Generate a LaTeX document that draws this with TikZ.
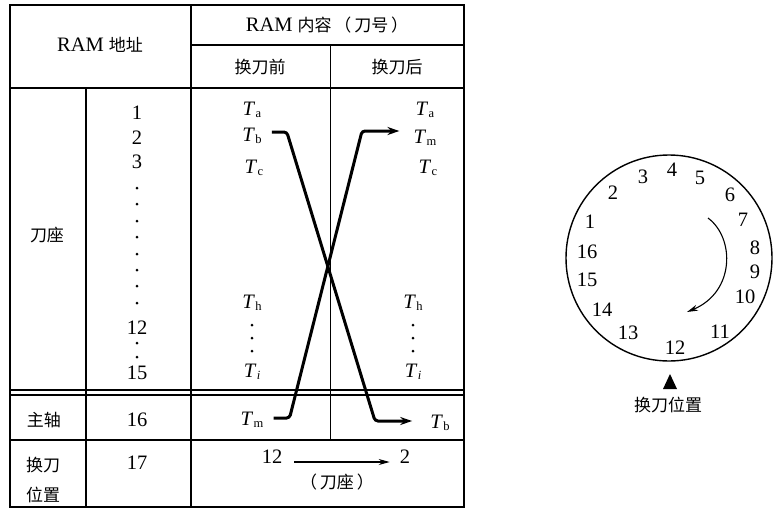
\documentclass[tikz,border=0pt]{standalone}
\usepackage{fontspec}
\setmainfont{Liberation Serif}
\newfontfamily\zhfam{Noto Sans CJK SC}
\usetikzlibrary{arrows.meta}

\newcommand\zh[1]{{\zhfam\fontsize{17}{20}\selectfont #1}}
\newcommand\tool[1]{\textit{T}\kern0.4pt\raisebox{-1.8pt}{\fontsize{12.5}{13}\selectfont #1}}

\tikzset{
  txt/.style={inner sep=0pt, font=\fontsize{20.5}{23}\selectfont},
  grid/.style={line width=1.6pt},
  thinline/.style={line width=1pt},
  swap/.style={line width=3pt, rounded corners=3pt, -{Stealth[length=12pt,width=8pt]}},
  move/.style={line width=1.1pt, -{Stealth[length=11pt,width=6pt]}},
}

\begin{document}
\begin{tikzpicture}[x=1pt,y=-1pt]
  \useasboundingbox (0,0) rectangle (774,512);
  % Tabela
  \draw[grid] (10,5) rectangle (464,507);
  \draw[grid] (191,45) -- (464,45);
  \draw[grid] (10,88) -- (464,88);
  \draw[grid] (10,390) -- (464,390) (10,395) -- (464,395);
  \draw[grid] (10,440) -- (464,440);
  \draw[grid] (191,5) -- (191,507);
  \draw[grid] (86,88) -- (86,507);
  \draw[thinline] (330,45) -- (330,440);
  % Cabecalho
  \node[txt] (addr) at (100,45) {RAM \zh{地址}};
  \node[txt] (cont) at (327,25) {RAM \zh{内容\,（\,刀号\,）}};
  \node[txt] (before) at (260,67) {\zh{换刀前}};
  \node[txt] (after) at (397,67) {\zh{换刀后}};
  % Linhas
  \node[txt] (seat) at (47,235) {\zh{刀座}};
  \node[txt] (spindle) at (44,420) {\zh{主轴}};
  \node[inner sep=0pt,align=center,font=\zhfam\fontsize{17}{30}\selectfont] (chg) at (43,480) {换刀\\位置};
  % Enderecos
  \node[txt] (a1) at (137,113) {1};
  \node[txt] (a2) at (137,138) {2};
  \node[txt] (a3) at (137,162) {3};
  \node[txt] (a12) at (137,328) {12};
  \node[txt] (a15) at (137,373) {15};
  \node[txt] (a16) at (137,420) {16};
  \node[txt] (a17) at (137,463) {17};
  \foreach \y in {188,204,221,237,254,270,286,303,343,357}
    \fill (137,\y) circle (1.5pt);
  % Antes da troca
  \node[txt] (taold) at (252,110) {\tool{a}};
  \node[txt] (tbold) at (252,136) {\tool{b}};
  \node[txt] (tcold) at (254,168) {\tool{c}};
  \node[txt] (thold) at (252,303) {\tool{h}};
  \node[txt] (tiold) at (252,372) {\tool{\textit{i}}};
  \node[txt] (tmold) at (252,420) {\tool{m}};
  % Depois da troca
  \node[txt] (tanew) at (425,110) {\tool{a}};
  \node[txt] (tmnew) at (425,138) {\tool{m}};
  \node[txt] (tcnew) at (428,168) {\tool{c}};
  \node[txt] (thnew) at (413,303) {\tool{h}};
  \node[txt] (tinew) at (413,372) {\tool{\textit{i}}};
  \node[txt] (tbnew) at (440,423) {\tool{b}};
  \foreach \y in {325,338,351} {
    \fill (252,\y) circle (1.5pt);
    \fill (413,\y) circle (1.5pt);
  }
  % Troca
  \draw[swap] ([shift={(10,-4)}]tbold.east) -- ++(15,0) -- (375,421) -- ([shift={(-18,-2)}]tbnew.west);
  \draw[swap] ([shift={(10,-2)}]tmold.east) -- ++(16,0) -- (362,131) -- ([shift={(-14,-7)}]tmnew.west);
  % Posicao de troca
  \node[txt] (from) at (272,457) {12};
  \node[txt] (to) at (405,457) {2};
  \draw[move] ([shift={(12,5)}]from.east) -- ([shift={(-10,5)}]to.west);
  \node[txt] (via) at (337,482) {\zh{（\,刀座\,）}};
  % Disco
  \draw[line width=1.4pt] (669,258) circle (103pt);
  \foreach \n/\px/\py in {4/672/170, 3/643/177, 5/700/178, 2/613/193, 6/730/195,
      1/590/222, 7/743/220, 16/587/252, 8/755/248, 9/755/272, 15/587/280,
      10/745/297, 14/602/310, 11/720/332, 13/628/333, 12/675/348}
    \node[txt] (s\n) at (\px,\py) {\n};
  \draw[move] (708,218) .. controls (735,238) and (735,292) .. (687,312);
  \fill (670,374) -- (663,389) -- (677,389) -- cycle;
  \node[txt] (chgpos) at (668,405) {\zh{换刀位置}};
\end{tikzpicture}
\end{document}
